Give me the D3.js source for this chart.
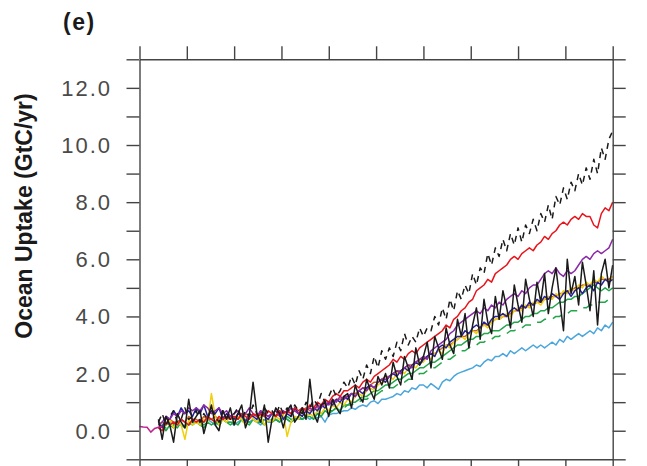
<!DOCTYPE html>
<html>
<head>
<meta charset="utf-8">
<script src="https://cdn.jsdelivr.net/npm/d3@7/dist/d3.min.js"></script>
<style>
  html, body { margin: 0; padding: 0; background: #fff; }
  svg { display: block; }
</style>
</head>
<body>
<svg id="chart" width="647" height="466"></svg>
<script>
// ---- Data (GtC/yr), 2-year steps from 1860 to 2100 ----
const startYear = 1860;
const stepYears = 2;
const yTickLabels = ["0.0", "2.0", "4.0", "6.0", "8.0", "10.0", "12.0"];
const yTickValues = [0, 2, 4, 6, 8, 10, 12];

const magentaYears = [1850, 1852, 1854, 1856, 1858, 1860, 1862];
const magentaVals = [0.15, 0.13, 0.12, -0.05, 0.08, 0.12, 0.15];

const lightBlue = [
  0.2,0.3,0.2,0.3,0.2,0.3,0.4,0.3,0.2,0.3,
  0.3,0.2,0.3,0.4,0.3,0.2,0.3,0.4,0.3,0.3,
  0.2,0.3,0.4,0.3,0.3,0.4,0.3,0.2,0.4,0.3,
  0.3,0.4,0.3,0.4,0.4,0.3,0.5,0.4,0.4,0.5,
  0.4,0.5,0.45,0.5,0.3,0.55,0.6,0.6,0.65,0.7,
  0.7,0.8,0.75,0.85,0.9,0.85,1.0,1.05,0.95,1.1,
  1.1,1.15,1.2,1.3,1.25,1.4,1.35,1.5,1.45,1.6,
  1.6,1.5,1.65,1.55,1.45,1.7,1.8,1.75,1.9,2.0,
  2.05,2.1,2.15,2.2,2.3,2.25,2.4,2.5,2.45,2.6,
  2.6,2.7,2.6,2.8,2.7,2.8,2.9,2.8,2.9,3.0,
  2.9,3.0,2.9,3.0,3.1,3.0,3.2,3.1,3.3,3.2,
  3.3,3.4,3.3,3.4,3.5,3.4,3.6,3.5,3.7,3.6,
  3.8];

const greenDash = [
  0.1,0.2,0.1,0.2,0.2,0.1,0.3,0.2,0.2,0.3,
  0.2,0.3,0.2,0.3,0.2,0.3,0.3,0.2,0.3,0.3,
  0.3,0.2,0.3,0.4,0.3,0.3,0.4,0.3,0.4,0.3,
  0.4,0.4,0.3,0.4,0.5,0.4,0.4,0.5,0.4,0.5,
  0.5,0.5,0.6,0.6,0.6,0.7,0.7,0.8,0.8,0.8,
  0.9,0.9,1.0,1.0,1.1,1.1,1.2,1.2,1.3,1.4,
  1.4,1.5,1.5,1.6,1.7,1.7,1.8,1.8,1.9,2.0,
  2.0,2.1,2.2,2.2,2.3,2.4,2.5,2.5,2.6,2.7,
  2.8,2.8,2.9,3.0,3.0,3.1,3.1,3.2,3.2,3.3,
  3.3,3.4,3.4,3.5,3.5,3.6,3.6,3.7,3.7,3.7,
  3.8,3.8,3.9,3.9,3.9,4.0,4.0,4.1,4.1,4.2,
  4.2,4.2,4.3,4.3,4.4,4.4,4.5,4.5,4.5,4.6,
  4.6];

const greenSolid = [
  0.1,0.2,0.0,0.2,0.1,0.3,0.2,0.1,0.3,0.2,
  0.3,0.2,0.1,0.3,0.2,0.3,0.2,0.4,0.3,0.2,
  0.3,0.2,0.4,0.3,0.2,0.4,0.3,0.3,0.2,0.4,
  0.3,0.4,0.3,0.5,0.4,0.3,0.4,0.5,0.4,0.5,
  0.5,0.4,0.6,0.5,0.7,0.6,0.7,0.8,0.7,0.9,
  0.9,1.0,1.0,1.1,1.2,1.2,1.3,1.4,1.4,1.5,
  1.6,1.6,1.7,1.8,1.8,1.9,2.0,2.0,2.1,2.2,
  2.2,2.3,2.4,2.4,2.5,2.6,2.7,2.8,2.9,3.0,
  3.0,3.1,3.2,3.2,3.3,3.3,3.4,3.4,3.5,3.5,
  3.5,3.6,3.7,3.7,3.8,3.8,3.9,4.0,4.0,4.1,
  4.1,4.2,4.2,4.3,4.3,4.4,4.5,4.5,4.6,4.6,
  4.7,4.7,4.8,4.9,5.0,5.1,5.0,4.9,5.0,4.9,
  5.0];

const orange = [
  0.2,0.3,0.2,0.4,0.3,0.3,0.4,0.3,0.5,0.4,
  0.4,0.3,0.5,0.4,0.4,0.5,0.4,0.5,0.4,0.5,
  0.5,0.4,0.5,0.6,0.5,0.5,0.6,0.5,0.6,0.5,
  0.6,0.5,0.6,0.6,0.7,0.6,0.7,0.6,0.7,0.8,
  0.7,0.8,0.8,0.9,0.9,1.0,1.0,1.1,1.1,1.2,
  1.2,1.3,1.3,1.4,1.5,1.5,1.6,1.7,1.7,1.8,
  1.9,1.9,2.0,2.1,2.1,2.2,2.3,2.3,2.4,2.5,
  2.5,2.6,2.7,2.7,2.8,2.9,3.0,3.0,3.1,3.2,
  3.3,3.3,3.4,3.5,3.5,3.6,3.7,3.7,3.8,3.9,
  3.9,4.0,4.0,4.1,4.2,4.2,4.3,4.3,4.4,4.4,
  4.5,4.5,4.6,4.6,4.7,4.7,4.8,4.8,4.9,4.9,
  5.0,5.0,5.1,5.1,5.1,5.2,5.2,5.3,5.3,5.3,
  5.4];

const yellow = [
  0.1,0.3,0.2,0.4,0.1,0.3,0.2,-0.3,0.4,0.2,
  0.3,0.2,0.4,0.3,1.3,0.5,0.2,0.4,0.3,0.5,
  0.3,0.5,0.4,0.2,0.6,0.4,0.3,0.5,0.2,0.4,
  0.3,0.5,0.4,0.6,-0.2,0.3,0.5,0.4,0.7,0.5,
  0.6,0.5,0.7,0.6,0.8,0.7,0.9,0.8,1.0,0.9,
  1.1,1.0,1.2,1.3,1.2,1.4,1.5,1.4,1.6,1.7,
  1.7,1.9,1.8,2.0,2.1,2.0,2.2,2.3,2.2,2.4,
  2.4,2.6,2.5,2.7,2.8,2.7,3.0,2.9,3.1,3.2,
  3.3,3.2,3.4,3.5,3.4,3.6,3.7,3.6,3.8,3.9,
  3.9,4.0,4.1,4.0,4.2,4.3,4.2,4.4,4.3,4.5,
  4.5,4.4,4.6,4.7,4.6,4.8,4.7,4.9,4.8,5.0,
  4.9,5.1,5.0,5.2,5.1,5.3,5.2,5.4,5.3,5.2,
  5.4];

const navy = [
  0.3,0.1,0.5,0.4,0.7,0.5,0.8,0.6,0.7,0.5,
  0.8,0.6,0.9,0.5,0.7,0.6,0.8,0.4,0.6,0.5,
  0.4,0.6,0.5,0.3,0.6,0.5,0.4,0.7,0.5,0.4,
  0.6,0.5,0.7,0.4,0.6,0.5,0.8,0.6,0.5,0.7,
  0.6,0.8,0.7,0.9,0.8,1.0,0.9,1.1,1.0,1.2,
  1.1,1.3,1.2,1.4,1.3,1.5,1.6,1.5,1.7,1.8,
  1.7,1.9,2.0,1.9,2.1,2.2,2.1,2.3,2.4,2.3,
  2.5,2.6,2.7,2.6,2.9,3.0,2.9,3.1,3.2,3.3,
  3.3,3.5,3.4,3.6,3.7,3.6,3.8,3.7,3.9,4.0,
  4.0,4.1,4.0,4.2,4.3,4.2,4.4,4.3,4.5,4.4,
  4.6,4.5,4.7,4.6,4.8,4.7,4.6,4.8,4.9,4.7,
  4.9,5.0,4.8,5.0,5.1,4.9,5.2,5.1,5.3,5.2,
  5.3];

const purple = [
  0.2,0.3,0.5,0.4,0.6,0.5,0.7,0.6,0.8,0.7,
  0.8,0.7,0.9,0.8,0.6,0.7,0.8,0.6,0.7,0.5,
  0.6,0.7,0.5,0.6,0.8,0.6,0.5,0.7,0.6,0.5,
  0.6,0.7,0.5,0.7,0.6,0.8,0.7,0.6,0.8,0.7,
  0.8,0.7,0.9,0.8,1.0,0.9,1.1,1.0,1.2,1.1,
  1.2,1.3,1.2,1.4,1.5,1.4,1.6,1.5,1.7,1.8,
  1.8,1.9,2.0,2.1,2.0,2.2,2.3,2.2,2.4,2.5,
  2.6,2.5,2.8,2.9,3.0,3.1,3.2,3.4,3.5,3.7,
  3.8,3.9,4.0,4.1,4.2,4.1,4.3,4.2,4.4,4.3,
  4.5,4.4,4.6,4.7,4.8,4.7,4.9,4.8,5.0,5.1,
  5.1,5.3,5.5,5.6,5.5,5.7,5.5,5.4,5.6,5.5,
  5.6,5.8,6.0,6.1,6.0,6.2,6.3,6.2,6.3,6.4,
  6.7];

const red = [
  0.1,0.0,0.3,0.2,0.3,0.2,0.4,0.3,0.2,0.4,
  0.3,0.4,0.3,0.5,0.4,0.3,0.5,0.4,0.5,0.4,
  0.5,0.4,0.6,0.5,0.4,0.6,0.5,0.6,0.5,0.7,
  0.6,0.5,0.7,0.6,0.7,0.6,0.8,0.7,0.8,0.7,
  0.9,0.8,1.0,0.9,1.1,1.0,1.2,1.3,1.2,1.4,
  1.4,1.5,1.6,1.5,1.7,1.8,1.7,1.9,2.0,2.1,
  2.2,2.3,2.5,2.4,2.6,2.5,2.7,2.8,2.7,2.9,
  3.0,3.1,3.2,3.3,3.4,3.5,3.7,3.6,3.9,4.0,
  4.2,4.3,4.5,4.6,4.9,5.0,5.1,5.3,5.2,5.5,
  5.6,5.7,5.8,6.0,6.1,6.0,6.2,6.3,6.4,6.3,
  6.5,6.6,6.8,6.7,6.9,7.0,7.2,7.3,7.2,7.4,
  7.5,7.4,7.6,7.5,7.5,7.2,7.1,7.6,7.8,7.7,
  8.0];

const blackDash = [
  0.3,0.6,0.2,0.5,0.7,0.3,0.4,0.8,0.4,0.5,
  0.7,0.3,0.6,0.4,0.8,0.5,0.3,0.7,0.6,0.4,
  0.6,0.8,0.4,0.7,0.5,0.9,0.6,0.4,0.8,0.6,
  0.7,0.5,0.9,0.6,0.8,0.5,0.9,0.7,0.6,1.0,
  0.8,1.1,0.9,1.3,1.0,1.2,1.5,1.2,1.4,1.7,
  1.5,1.9,1.6,2.1,1.8,2.3,2.0,2.6,2.2,2.8,
  2.5,2.9,2.6,3.1,2.8,3.4,3.0,3.3,3.1,3.6,
  3.3,3.6,3.5,4.0,3.7,4.3,3.9,4.6,4.2,4.9,
  4.6,5.1,4.8,5.5,5.1,5.7,5.5,6.2,5.8,6.4,
  6.1,6.7,6.3,6.9,6.5,7.1,6.6,7.2,6.9,7.4,
  7.0,7.6,7.3,7.9,7.4,8.2,7.9,8.5,8.1,8.7,
  8.4,9.0,8.6,9.2,8.8,9.5,9.0,9.9,9.5,10.2,
  10.5];

const blackSolid = [
  0.4,-0.3,0.5,0.2,-0.4,0.6,0.3,0.1,1.1,0.3,
  0.5,0.7,-0.1,0.4,0.9,0.2,0.0,0.7,0.4,0.8,
  0.2,0.6,0.9,0.1,0.5,1.7,0.6,0.3,0.9,-0.4,
  0.4,0.8,0.6,0.1,0.7,0.9,0.3,0.5,0.8,0.4,
  1.8,0.6,0.3,0.9,1.0,0.5,1.1,0.8,0.6,1.2,
  1.3,0.8,1.6,1.2,1.0,1.8,1.4,1.1,1.9,1.6,
  2.0,1.5,2.4,1.9,1.6,2.6,2.2,1.8,2.9,2.3,
  2.6,3.1,2.2,3.3,2.9,2.5,3.6,3.0,2.7,3.9,
  3.3,4.1,2.9,3.7,4.3,3.2,4.6,3.8,3.4,4.7,
  3.9,4.9,4.3,3.6,5.1,4.4,3.8,5.3,4.6,4.0,
  5.2,4.5,5.5,4.1,5.0,5.7,4.6,3.5,6.0,4.8,
  5.4,4.4,5.9,5.1,4.2,5.6,3.7,5.5,6.0,5.0,
  5.8];

const seriesList = [
  { name: "lightBlue", values: lightBlue, color: "#4aa6dc", dash: null },
  { name: "greenDash", values: greenDash, color: "#23a64a", dash: "10,7" },
  { name: "greenSolid", values: greenSolid, color: "#23a64a", dash: null },
  { name: "orange", values: orange, color: "#c8602c", dash: null },
  { name: "yellow", values: yellow, color: "#f0d00e", dash: null },
  { name: "navy", values: navy, color: "#27209a", dash: null },
  { name: "purple", values: purple, color: "#8a2aa6", dash: null },
  { name: "red", values: red, color: "#e8141c", dash: null },
  { name: "blackDash", values: blackDash, color: "#1a1a1a", dash: "6,5" },
  { name: "blackSolid", values: blackSolid, color: "#1a1a1a", dash: null }
];

(function () {
  const svg = d3.select("#chart");
  const mLeft = 139.5, mRight = 612.7, mTop = 59.3, mBottom = 459.3;
  const x = d3.scaleLinear().domain([1850, 2100]).range([mLeft, mRight]);
  const y = d3.scaleLinear().domain([-1, 13]).range([mBottom, mTop]);

  const axisColor = "#444";
  const tickLen = 13;

  const line = d3.line()
    .x(d => x(d[0]))
    .y(d => y(d[1]));

  const gLines = svg.append("g");
  seriesList.forEach(s => {
    const pts = s.values.map((v, i) => [startYear + i * stepYears, v]);
    gLines.append("path")
      .datum(pts)
      .attr("fill", "none")
      .attr("stroke", s.color)
      .attr("stroke-width", 1.5)
      .attr("stroke-linejoin", "round")
      .attr("stroke-dasharray", s.dash)
      .attr("d", line);
  });
  gLines.append("path")
    .datum(magentaYears.map((yr, i) => [yr, magentaVals[i]]))
    .attr("fill", "none")
    .attr("stroke", "#c02090")
    .attr("stroke-width", 1.5)
    .attr("d", line);

  const yMinor = d3.range(-1, 14, 1);
  const xTicks = d3.range(1850, 2101, 25);

  function styleAxis(g) {
    g.selectAll("path").attr("stroke", axisColor).attr("stroke-width", 1.4);
    g.selectAll("line").attr("stroke", axisColor).attr("stroke-width", 1.4);
  }
  svg.append("g").attr("transform", `translate(${mLeft},0)`)
    .call(d3.axisLeft(y).tickValues(yMinor).tickSize(tickLen).tickSizeOuter(0).tickFormat(""))
    .call(styleAxis);
  svg.append("g").attr("transform", `translate(${mRight},0)`)
    .call(d3.axisRight(y).tickValues(yMinor).tickSize(tickLen).tickSizeOuter(0).tickFormat(""))
    .call(styleAxis);
  svg.append("g").attr("transform", `translate(0,${mTop})`)
    .call(d3.axisTop(x).tickValues(xTicks).tickSize(tickLen).tickSizeOuter(0).tickFormat(""))
    .call(styleAxis);
  svg.append("g").attr("transform", `translate(0,${mBottom})`)
    .call(d3.axisBottom(x).tickValues(xTicks).tickSize(tickLen).tickSizeOuter(0).tickFormat(""))
    .call(styleAxis);

  svg.append("g").selectAll("text")
    .data(yTickValues)
    .join("text")
    .attr("x", 112)
    .attr("y", d => y(d))
    .attr("dy", "0.36em")
    .attr("text-anchor", "end")
    .attr("font-family", "Liberation Sans, Arial, sans-serif")
    .attr("font-size", 22)
    .attr("letter-spacing", 2)
    .attr("fill", "#4a4a4a")
    .text((d, i) => yTickLabels[i]);

  svg.append("text")
    .attr("transform", "translate(32,216) rotate(-90)")
    .attr("text-anchor", "middle")
    .attr("font-family", "Liberation Sans, Arial, sans-serif")
    .attr("font-weight", "bold")
    .attr("font-size", 23)
    .attr("fill", "#1a1a1a")
    .text("Ocean Uptake (GtC/yr)");

  svg.append("text")
    .attr("x", 63)
    .attr("y", 30)
    .attr("font-family", "Liberation Sans, Arial, sans-serif")
    .attr("font-weight", "bold")
    .attr("font-size", 23)
    .attr("letter-spacing", 1.5)
    .attr("fill", "#1a1a1a")
    .text("(e)");
})();
</script>
</body>
</html>
